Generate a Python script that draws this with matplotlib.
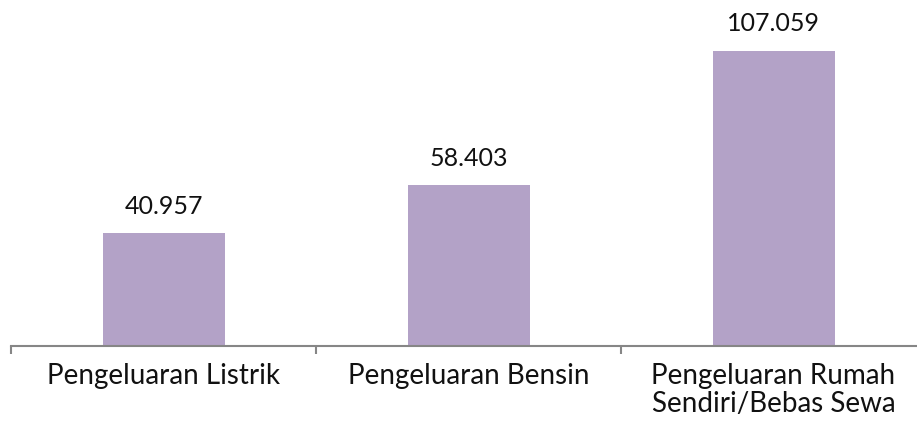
import matplotlib.pyplot as plt

# Data
kategori = ['Pengeluaran Listrik', 'Pengeluaran Bensin',
            'Pengeluaran Rumah\nSendiri/Bebas Sewa']
nilai = [40.957, 58.403, 107.059]
label_nilai = ['40.957', '58.403', '107.059']

plt.rcParams['font.family'] = ['Lato', 'DejaVu Sans']

fig = plt.figure(figsize=(9.17, 4.26), dpi=100)
W, H = 917, 426
# axis runs a bit past the right edge of the figure
ax = fig.add_axes([11 / W, 80 / H, 915 / W, 331 / H])

x = range(len(kategori))
bars = ax.bar(x, nilai, width=0.4, color='#B3A2C7')

ax.set_xlim(-0.5, 2.5)
ax.set_ylim(0, 120)

for b, t in zip(bars, label_nilai):
    ax.annotate(t, (b.get_x() + b.get_width() / 2, b.get_height()),
                xytext=(0, 11), textcoords='offset points',
                ha='center', va='bottom', fontsize=18, color='#111111')

for s in ['top', 'right', 'left']:
    ax.spines[s].set_visible(False)
ax.spines['bottom'].set_color('#868686')
ax.spines['bottom'].set_linewidth(1.5)

ax.set_yticks([])
ax.set_xticks([-0.5, 0.5, 1.5, 2.5])
ax.set_xticklabels([])
ax.tick_params(axis='x', length=6, width=1.5, color='#868686')
ax.set_xticks(list(x), minor=True)
ax.set_xticklabels(kategori, minor=True, fontsize=20, color='#111111',
                   linespacing=1.12)
ax.tick_params(axis='x', which='minor', length=0, pad=12)

fig.savefig('out.png', dpi=100)
